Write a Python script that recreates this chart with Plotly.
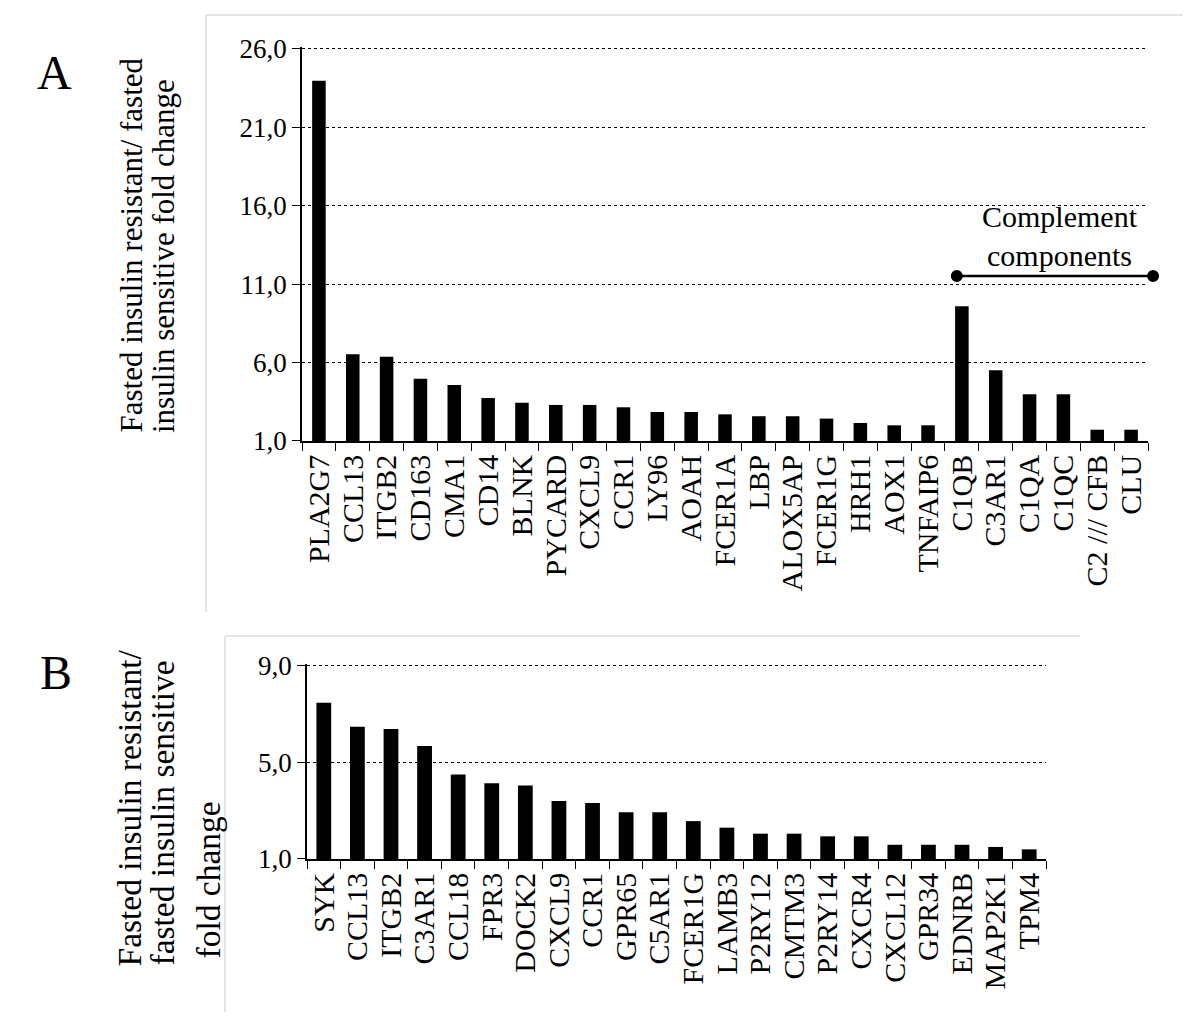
import plotly.graph_objects as go

# ---------------- data ----------------
genes_a = ["PLA2G7", "CCL13", "ITGB2", "CD163", "CMA1", "CD14", "BLNK", "PYCARD",
           "CXCL9", "CCR1", "LY96", "AOAH", "FCER1A", "LBP", "ALOX5AP", "FCER1G",
           "HRH1", "AOX1", "TNFAIP6", "C1QB", "C3AR1", "C1QA", "C1QC", "C2 /// CFB", "CLU"]
fold_a = [23.98, 6.53, 6.38, 4.97, 4.57, 3.74, 3.44, 3.30, 3.30, 3.15, 2.85, 2.85,
          2.70, 2.58, 2.58, 2.43, 2.15, 2.00, 2.00, 9.60, 5.51, 3.98, 3.98, 1.72, 1.72]

genes_b = ["SYK", "CCL13", "ITGB2", "C3AR1", "CCL18", "FPR3", "DOCK2", "CXCL9", "CCR1",
           "GPR65", "C5AR1", "FCER1G", "LAMB3", "P2RY12", "CMTM3", "P2RY14", "CXCR4",
           "CXCL12", "GPR34", "EDNRB", "MAP2K1", "TPM4"]
fold_b = [7.48, 6.48, 6.39, 5.68, 4.50, 4.14, 4.05, 3.40, 3.32, 2.94, 2.94, 2.57,
          2.30, 2.05, 2.05, 1.94, 1.94, 1.59, 1.59, 1.59, 1.50, 1.40]

ticks_a = [1, 6, 11, 16, 21, 26]
ticklabels_a = ["1,0", "6,0", "11,0", "16,0", "21,0", "26,0"]
ticks_b = [1, 5, 9]
ticklabels_b = ["1,0", "5,0", "9,0"]

complement_group = ["C1QB", "C3AR1", "C1QA", "C1QC", "C2 /// CFB", "CLU"]
complement_level = 11.52

# ---------------- layout helpers ----------------
W, H = 1200, 1022
SERIF = "Liberation Serif"


def px(x):
    return x / W


def py(y):
    return 1 - y / H


# panel A: value 1 at y=441px, value 26 at y=49px; range padded a little on top
A_PAD = 0.15
A_UNIT = (441 - 49) / 25.0
XA = [px(302), px(1148)]
YA = [py(441), py(49 - A_PAD * A_UNIT)]
RANGE_A = [1, 26 + A_PAD]
# panel B: value 1 at y=859px, value 9 at y=666px
B_PAD = 0.1
B_UNIT = (859 - 666) / 8.0
XB = [px(307), px(1046)]
YB = [py(859), py(666 - B_PAD * B_UNIT)]
RANGE_B = [1, 9 + B_PAD]

fig = go.Figure()
fig.add_trace(go.Bar(x=genes_a, y=fold_a, marker=dict(color="black", line=dict(width=0)),
                     width=0.4, xaxis="x", yaxis="y", showlegend=False))
fig.add_trace(go.Bar(x=genes_b, y=fold_b, marker=dict(color="black", line=dict(width=0)),
                     width=0.44, xaxis="x2", yaxis="y2", showlegend=False))

xcommon = dict(type="category", tickangle=-90, ticks="outside", tickson="boundaries",
               ticklen=8, tickwidth=1.2, tickcolor="black", showline=True, linecolor="black",
               linewidth=1.5, showgrid=False, zeroline=False, automargin=False,
               tickfont=dict(family=SERIF, size=30, color="black"))
ycommon = dict(ticks="outside", ticklen=8, tickwidth=1.2, tickcolor="black", showline=True,
               linecolor="black", linewidth=1.5, showgrid=True, gridcolor="black",
               griddash="dot", gridwidth=1, zeroline=False, automargin=False,
               tickfont=dict(family=SERIF, size=27, color="black"))

fig.update_layout(
    width=W, height=H, autosize=False,
    margin=dict(l=0, r=0, t=0, b=0),
    paper_bgcolor="white", plot_bgcolor="white",
    xaxis=dict(domain=XA, anchor="y", range=[-0.5, len(genes_a) - 0.5],
               tickmode="array", tickvals=genes_a, ticktext=genes_a, **xcommon),
    yaxis=dict(domain=YA, anchor="x", range=RANGE_A,
               tickvals=ticks_a, ticktext=ticklabels_a, **ycommon),
    xaxis2=dict(domain=XB, anchor="y2", range=[-0.5, len(genes_b) - 0.5],
                tickmode="array", tickvals=genes_b, ticktext=genes_b, **xcommon),
    yaxis2=dict(domain=YB, anchor="x2", range=RANGE_B,
                tickvals=ticks_b, ticktext=ticklabels_b, **ycommon),
)

shapes = []
frame_col = "#dcdcdc"
# panel frames
shapes.append(dict(type="line", xref="paper", yref="paper", x0=px(206), x1=px(1183),
                   y0=py(15), y1=py(15), line=dict(color=frame_col, width=1.5)))
shapes.append(dict(type="line", xref="paper", yref="paper", x0=px(206), x1=px(206),
                   y0=py(15), y1=py(612), line=dict(color=frame_col, width=1.5)))
shapes.append(dict(type="line", xref="paper", yref="paper", x0=px(225), x1=px(1080),
                   y0=py(636), y1=py(636), line=dict(color=frame_col, width=1.5)))
shapes.append(dict(type="line", xref="paper", yref="paper", x0=px(225), x1=px(225),
                   y0=py(636), y1=py(1012), line=dict(color=frame_col, width=1.5)))


# complement components bracket (positions derived from the panel A axes)
def cat_to_paper(idx):
    return XA[0] + (idx + 0.5) / len(genes_a) * (XA[1] - XA[0])


def val_to_paper(v):
    return YA[0] + (v - RANGE_A[0]) / (RANGE_A[1] - RANGE_A[0]) * (YA[1] - YA[0])


x_left = cat_to_paper(genes_a.index(complement_group[0]) - 0.15)
x_right = cat_to_paper(genes_a.index(complement_group[-1]) + 0.65)
y_br = val_to_paper(complement_level)
shapes.append(dict(type="line", xref="paper", yref="paper", x0=x_left, x1=x_right,
                   y0=y_br, y1=y_br, line=dict(color="black", width=2.5)))
for xc in (x_left, x_right):
    shapes.append(dict(type="circle", xref="paper", yref="paper", xsizemode="pixel",
                       ysizemode="pixel", xanchor=xc, yanchor=y_br, x0=-6, x1=6, y0=-6, y1=6,
                       fillcolor="black", line=dict(color="black", width=0)))
fig.update_layout(shapes=shapes)

ann = []
ann.append(dict(text="Complement<br>components", xref="paper", yref="paper", x=px(1060),
                y=py(236), showarrow=False, align="center",
                font=dict(family=SERIF, size=30, color="black"),
                xanchor="center", yanchor="middle"))

# axis titles (rotated)
for text, xc, ybot, fs in [("Fasted insulin resistant/ fasted", 131, 435, 31),
                           ("insulin sensitive fold change", 163, 435, 31),
                           ("Fasted insulin resistant/", 129, 969, 33.5),
                           ("fasted insulin sensitive", 162, 968, 33.5),
                           ("fold change", 208, 961, 33.5)]:
    ann.append(dict(text=text, xref="paper", yref="paper", x=px(xc), y=py(ybot),
                    textangle=-90, showarrow=False,
                    font=dict(family=SERIF, size=fs, color="black"),
                    xanchor="center", yanchor="bottom"))

# panel letters
ann.append(dict(text="A", xref="paper", yref="paper", x=px(55), y=py(72), showarrow=False,
                font=dict(family=SERIF, size=48, color="black"), xanchor="center",
                yanchor="middle"))
ann.append(dict(text="B", xref="paper", yref="paper", x=px(56), y=py(672), showarrow=False,
                font=dict(family=SERIF, size=48, color="black"), xanchor="center",
                yanchor="middle"))
fig.update_layout(annotations=ann)

fig.write_html("out.html", config={"displayModeBar": False},
               post_script="document.body.style.margin='0px';")
